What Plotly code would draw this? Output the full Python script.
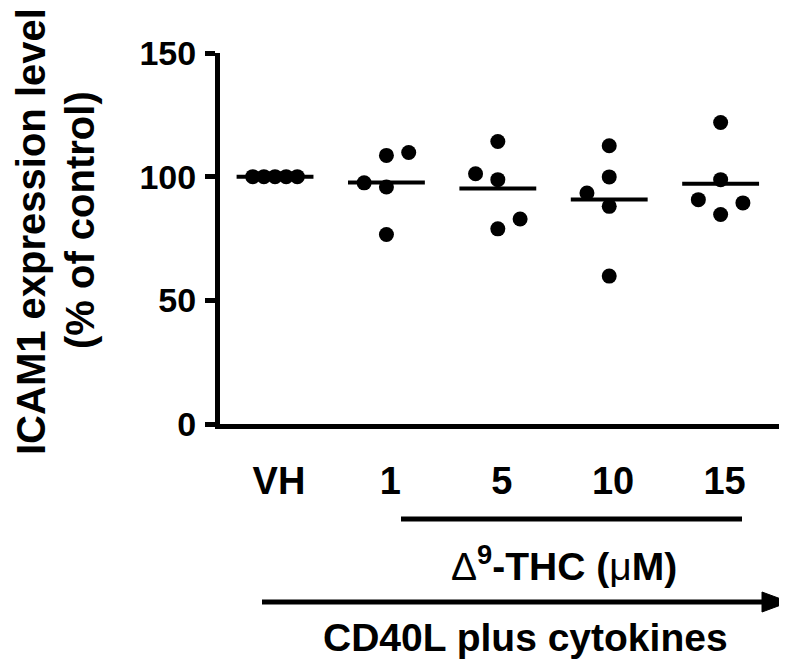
import plotly.graph_objects as go

# ---------------- data ----------------
groups = ["VH", "1", "5", "10", "15"]
vh = [100, 100, 100, 100, 100]
thc1 = [76.6, 95.8, 97.5, 108.6, 109.8]
thc5 = [98.8, 101.2, 78.9, 82.9, 114.2]
thc10 = [88.0, 93.4, 99.9, 112.5, 59.8]
thc15 = [84.7, 90.7, 89.4, 98.8, 121.9]
y_ticks = [0, 50, 100, 150]
series = [vh, thc1, thc5, thc10, thc15]

# ---------------- style / layout constants ----------------
FONT = "Arial, 'Liberation Sans', sans-serif"
OFF = 8                      # page body margin of the browser
W, H = 800 - OFF, 666 - OFF
ML, MR, MT, MB = 220 - OFF, 21, 53 - OFF, 242
X_RANGE = [-0.494, 4.524]
Y_RANGE = [0, 150]
SWARM_STEP = [0.1, 0.2, 0.2, 0.2, 0.2]   # horizontal spacing of scatter columns
COLLIDE = 6.5                            # vertical distance (data units) regarded as overlap
MEAN_HALF = 0.345
LABEL_SHIFT = 0.035
TICK_FONT = 38
LABEL_FONT = 39

PW = W - ML - MR
PH = H - MT - MB
DX_PER_PX = (X_RANGE[1] - X_RANGE[0]) / PW


# helpers take screen pixel positions (of the 800x666 window)
def px_to_paper_y(py):
    return (H - MB - (py - OFF)) / PH


def px_to_paper_x(px):
    return (px - OFF - ML) / PW


def px_to_data_x(px):
    return X_RANGE[0] + (px - OFF - ML) * DX_PER_PX


def swarm(values, step, collide):
    placed, xs = [], []
    for v in values:
        def free(s):
            return all(not (ps == s and abs(pv - v) < collide) for ps, pv in placed)
        if free(0):
            s = 0
        else:
            left = sum(1 for ps, _ in placed if ps < 0)
            right = sum(1 for ps, _ in placed if ps > 0)
            side = -1 if left <= right else 1
            k = 1
            while not free(side * k):
                k += 1
            s = side * k
        placed.append((s, v))
        xs.append(s * step)
    return xs


fig = go.Figure()

for i, vals in enumerate(series):
    offs = swarm(vals, SWARM_STEP[i], COLLIDE)
    fig.add_trace(go.Scatter(
        x=[i + o for o in offs], y=vals, mode="markers",
        marker=dict(color="black", size=15, line=dict(width=0)),
        cliponaxis=False, showlegend=False, hoverinfo="y"))
    m = sum(vals) / len(vals)
    fig.add_trace(go.Scatter(
        x=[i - MEAN_HALF, i + MEAN_HALF], y=[m, m], mode="lines",
        line=dict(color="black", width=4), cliponaxis=False,
        showlegend=False, hoverinfo="skip"))

fig.update_layout(
    width=W, height=H, autosize=False,
    margin=dict(l=ML, r=MR, t=MT, b=MB, pad=0, autoexpand=False),
    paper_bgcolor="white", plot_bgcolor="white",
    font=dict(family=FONT, color="black"),
    xaxis=dict(
        range=X_RANGE, showgrid=False, zeroline=False, automargin=False,
        showline=True, linecolor="black", linewidth=5,
        ticks="", tickvals=[i + LABEL_SHIFT for i in range(len(groups))],
        ticktext=groups, tickfont=dict(size=TICK_FONT, family=FONT, weight="bold"),
        ticklabelstandoff=19,
    ),
    yaxis=dict(
        range=Y_RANGE, showgrid=False, zeroline=False, automargin=False,
        showline=True, linecolor="black", linewidth=5,
        ticks="outside", ticklen=10, tickwidth=5, tickcolor="black",
        tickvals=y_ticks, ticktext=[str(t) for t in y_ticks],
        tickfont=dict(size=34, family=FONT, weight="bold"),
        ticklabelstandoff=2,
    ),
)

# y-axis title (two lines)
fig.add_annotation(text="ICAM1 expression level", textangle=-90,
                   xref="paper", yref="paper",
                   x=px_to_paper_x(31), y=px_to_paper_y(232),
                   xanchor="center", yanchor="middle", showarrow=False,
                   font=dict(size=40, family=FONT, weight="bold"))
fig.add_annotation(text="(% of control)", textangle=-90,
                   xref="paper", yref="paper",
                   x=px_to_paper_x(80), y=px_to_paper_y(220),
                   xanchor="center", yanchor="middle", showarrow=False,
                   font=dict(size=40, family=FONT, weight="bold"))

# THC bracket line and label
fig.add_shape(type="line", xref="x", yref="paper",
              x0=px_to_data_x(401), x1=px_to_data_x(742),
              y0=px_to_paper_y(519), y1=px_to_paper_y(519),
              line=dict(color="black", width=5))
fig.add_annotation(
    text='<span style="font-weight:normal">Δ</span><sup>9</sup>-THC (<span style="font-weight:normal">μ</span>M)',
    xref="x", yref="paper", x=px_to_data_x(564), y=px_to_paper_y(563),
    xanchor="center", yanchor="middle", showarrow=False,
    font=dict(size=LABEL_FONT, family=FONT, weight="bold"))

# CD40L arrow (shaft + triangular head) and label
ARROW_Y = px_to_paper_y(602)
HEAD_HALF = 10 / PH
fig.add_shape(type="line", xref="x", yref="paper",
              x0=px_to_data_x(262), x1=px_to_data_x(766),
              y0=ARROW_Y, y1=ARROW_Y, line=dict(color="black", width=5))
tip, base = px_to_data_x(789), px_to_data_x(762)
fig.add_shape(type="path", xref="x", yref="paper",
              path=f"M {base},{ARROW_Y + HEAD_HALF} L {tip},{ARROW_Y} L {base},{ARROW_Y - HEAD_HALF} Z",
              fillcolor="black", line=dict(color="black", width=1))
fig.add_annotation(text="CD40L plus cytokines", xref="x", yref="paper",
                   x=px_to_data_x(525), y=px_to_paper_y(637),
                   xanchor="center", yanchor="middle", showarrow=False,
                   font=dict(size=LABEL_FONT, family=FONT, weight="bold"))

fig.write_html("out.html")
